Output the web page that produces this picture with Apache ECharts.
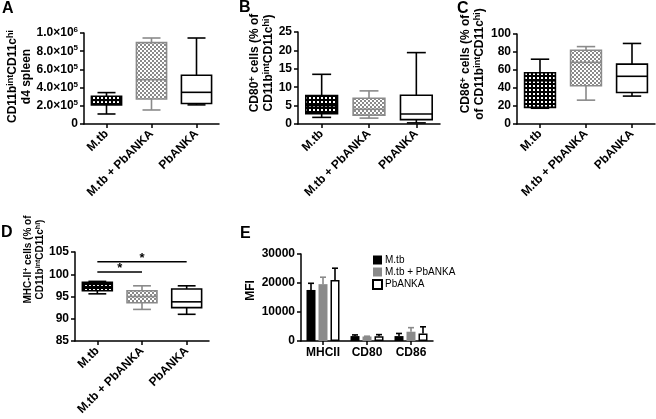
<!DOCTYPE html>
<html><head><meta charset="utf-8">
<script src="https://cdn.jsdelivr.net/npm/echarts@6/dist/echarts.min.js"></script>
<style>html,body{margin:0;padding:0;background:#fff}#c{width:656px;height:419px}</style>
</head><body><div id="c"></div>
<script>
// ---------- DATA ----------
const categories = ['M.tb', 'M.tb + PbANKA', 'PbANKA'];
// box statistics: [min, Q1, median, Q3, max]
const boxA_Mtb   = [110000, 210000, 260000, 305000, 345000];
const boxA_MtbPb = [154000, 275000, 487000, 894000, 945000];
const boxA_Pb    = [210000, 225000, 348000, 535000, 945000];
const boxB_Mtb   = [1.8, 2.8, 5.0, 7.7, 13.5];
const boxB_MtbPb = [1.6, 2.4, 4.0, 7.0, 9.0];
const boxB_Pb    = [0.3, 1.2, 2.7, 7.8, 19.4];
const boxC_Mtb   = [17.5, 18.5, 48, 57, 72];
const boxC_MtbPb = [26.5, 42.5, 68.5, 82, 86];
const boxC_Pb    = [31, 35, 53, 66.5, 89.5];
const boxD_Mtb   = [95.6, 96.3, 97.2, 98.2, 98.4];
const boxD_MtbPb = [92.1, 93.6, 95.0, 96.3, 97.4];
const boxD_Pb    = [91.0, 92.5, 93.8, 96.7, 97.4];
// significance brackets in D: [fromIndex, toIndex, yValue]
const sigD = [[0, 2, 102.8], [0, 1, 100.5]];
const sigD_labels = ['*', '*'];
// panel E
const markersE = ['MHCII', 'CD80', 'CD86'];
const meanE_Mtb   = [17600, 1700, 1700];
const upperE_Mtb  = [19900, 2100, 2600];
const meanE_MtbPb = [19600, 1550, 3200];
const upperE_MtbPb= [22000, 1650, 4600];
const meanE_Pb    = [21000, 1600, 2600];
const upperE_Pb   = [25100, 2200, 4900];
// tick labels
const yTickLabelsA = ['0', '2.0×10^5', '4.0×10^5', '6.0×10^5', '8.0×10^5', '1.0×10^6'];
const yTicksA = [0, 200000, 400000, 600000, 800000, 1000000];
const yTicksB = [0, 5, 10, 15, 20, 25];
const yTicksC = [0, 20, 40, 60, 80, 100];
const yTicksD = [85, 90, 95, 100, 105];
const yTicksE = [0, 10000, 20000, 30000];

// ---------- STYLE ----------
const FF = '"Liberation Sans", Arial, sans-serif';
function tile(bg, fg, size, cells) {
  const cv = document.createElement('canvas');
  cv.width = cv.height = size;
  const ctx = cv.getContext('2d');
  ctx.fillStyle = bg; ctx.fillRect(0, 0, size, size);
  ctx.fillStyle = fg;
  cells.forEach(c => ctx.fillRect(c[0], c[1], c[2], c[3]));
  return { image: cv, repeat: 'repeat' };
}
const patBlack = tile('#000', '#fff', 4, [[1, 1, 2, 2]]);
const patGrey  = tile('#fff', '#8a8a8a', 4, [[0, 0, 2, 2], [2, 2, 2, 2]]);
const fills   = [patBlack, patGrey, '#fff'];
const strokes = ['#000', '#8a8a8a', '#000'];

function boxRender(params, api) {
  const i = api.value(0);
  const band = api.size([1, 0])[0];
  const x = api.coord([i, 0])[0];
  const y = [1, 2, 3, 4, 5].map(k => api.coord([i, api.value(k)])[1]);
  const hw = band * 0.335, cw = band * 0.2;
  const ls = { stroke: strokes[i], lineWidth: 1.6 };
  return { type: 'group', children: [
    { type: 'line', shape: { x1: x, y1: y[0], x2: x, y2: y[1] }, style: ls },
    { type: 'line', shape: { x1: x, y1: y[3], x2: x, y2: y[4] }, style: ls },
    { type: 'line', shape: { x1: x - cw, y1: y[0], x2: x + cw, y2: y[0] }, style: ls },
    { type: 'line', shape: { x1: x - cw, y1: y[4], x2: x + cw, y2: y[4] }, style: ls },
    { type: 'rect', shape: { x: x - hw, y: y[3], width: 2 * hw, height: y[1] - y[3] },
      style: { fill: fills[i], stroke: strokes[i], lineWidth: 1.6 } },
    { type: 'line', shape: { x1: x - hw, y1: y[2], x2: x + hw, y2: y[2] }, style: ls }
  ]};
}
function boxSeries(idx, arrs) {
  return { type: 'custom', xAxisIndex: idx, yAxisIndex: idx, renderItem: boxRender,
    encode: { x: 0, y: [1, 2, 3, 4, 5] }, clip: false,
    data: arrs.map((a, i) => [i].concat(a)) };
}
function richSup(fs, ss) {
  return {
    b: { fontSize: fs, fontWeight: 'bold', fontFamily: FF, color: '#000', lineHeight: fs + 2 },
    s: { fontSize: ss, fontWeight: 'bold', fontFamily: FF, color: '#000', verticalAlign: 'top', lineHeight: fs + 2 }
  };
}
function supText(str) { // 'a^b' -> rich
  return str.replace(/\^(\w+)/, '{s|$1}').replace(/^([^{]+)/, '{n|$1}');
}
const axisLineS = { show: true, lineStyle: { color: '#000', width: 1.5 } };
const axisTickS = { show: true, length: 4, lineStyle: { color: '#000', width: 1.5 } };
function xCat(idx, data, rotate) {
  return { type: 'category', gridIndex: idx, data: data, boundaryGap: true,
    axisLine: axisLineS, axisTick: Object.assign({ alignWithLabel: true }, axisTickS),
    axisLabel: { interval: 0, rotate: rotate, margin: rotate ? 8 : 6, fontSize: 12, fontWeight: 'bold',
      fontFamily: FF, color: '#000' },
    splitLine: { show: false } };
}
function yVal(idx, ticks, name, gap, pad, fs, ss, labels) {
  const interval = ticks[1] - ticks[0];
  return { type: 'value', gridIndex: idx, min: ticks[0], max: ticks[ticks.length - 1], interval: interval,
    axisLine: axisLineS, axisTick: axisTickS, splitLine: { show: false },
    axisLabel: { margin: 6, fontSize: 12, fontWeight: 'bold', fontFamily: FF, color: '#000',
      formatter: labels ? function (v, i) { return supText(labels[i]); } : function (v) { return String(v); },
      rich: { n: { fontSize: 12, fontWeight: 'bold', fontFamily: FF, color: '#000', lineHeight: 14 },
              s: { fontSize: 8, fontWeight: 'bold', fontFamily: FF, color: '#000', verticalAlign: 'top', lineHeight: 14 } } },
    name: name, nameLocation: 'middle', nameRotate: 90, nameGap: gap,
    nameTextStyle: { fontSize: fs, fontWeight: 'bold', fontFamily: FF, color: '#000', align: 'center',
      padding: [0, 0, 0, pad], rich: richSup(fs, ss) } };
}
const gridBase = { containLabel: false, outerBoundsMode: 'none' };
const grids = [
  Object.assign({ left: 84, top: 33, width: 135, height: 91 }, gridBase),
  Object.assign({ left: 298, top: 32, width: 142, height: 92 }, gridBase),
  Object.assign({ left: 517, top: 34, width: 138, height: 90 }, gridBase),
  Object.assign({ left: 75, top: 252, width: 134, height: 89 }, gridBase),
  Object.assign({ left: 301, top: 254, width: 132, height: 87 }, gridBase)
];
const nameCD = '{b|CD11b}{s|int}{b|CD11c}{s|hi}';
const yAxes = [
  yVal(0, yTicksA, nameCD + '\n{b|d4 spleen}', 49, 4, 12, 9, yTickLabelsA),
  yVal(1, yTicksB, '{b|CD80}{s|+}{b| cells (% of}\n' + nameCD + '{b|)}', 22, 30, 12, 9),
  yVal(2, yTicksC, '{b|CD86}{s|+}{b| cells (% of}\n{b|of }' + nameCD + '{b|)}', 30, 30, 12, 9),
  yVal(3, yTicksD, '{b|MHC-II}{s|+}{b| cells (% of}\n' + nameCD + '{b|)}', 28, 74, 10, 7),
  yVal(4, yTicksE, '{b|MFI}', 43, 14, 12, 9)
];
const xAxes = [xCat(0, categories, 45), xCat(1, categories, 45), xCat(2, categories, 45),
  xCat(3, categories, 45), xCat(4, markersE, 0)];

const barW = 9, barGapPx = 3;
function errRender(k, color) {
  return function (params, api) {
    const i = api.value(0);
    const off = (k - 1) * (barW + barGapPx);
    const p1 = api.coord([i, api.value(1)]);
    const p2 = api.coord([i, api.value(2)]);
    const x = p1[0] + off;
    const st = { stroke: color, lineWidth: 1.6 };
    return { type: 'group', children: [
      { type: 'line', shape: { x1: x, y1: p1[1], x2: x, y2: p2[1] }, style: st },
      { type: 'line', shape: { x1: x - 3, y1: p2[1], x2: x + 3, y2: p2[1] }, style: st }
    ]};
  };
}
function errSeries(k, color, means, uppers) {
  return { type: 'custom', xAxisIndex: 4, yAxisIndex: 4, renderItem: errRender(k, color), z: 3,
    encode: { x: 0, y: [1, 2] }, data: means.map((m, i) => [i, m, uppers[i]]) };
}
function barSeries(name, vals, style) {
  return { type: 'bar', name: name, xAxisIndex: 4, yAxisIndex: 4, data: vals, barWidth: barW,
    barGap: (barGapPx / barW * 100) + '%', itemStyle: style };
}

const option = {
  animation: false,
  backgroundColor: '#fff',
  grid: grids, xAxis: xAxes, yAxis: yAxes,
  legend: { left: 372, top: 255, orient: 'vertical', itemWidth: 9, itemHeight: 9, itemGap: 2, padding: 0,
    icon: 'rect', data: categories,
    textStyle: { fontSize: 10, fontFamily: FF, color: '#000', padding: [0, 0, 0, -2] } },
  graphic: [
    { type: 'text', left: 2, top: 1, style: { text: 'A', font: 'bold 16px ' + FF, fill: '#000' } },
    { type: 'text', left: 239, top: 0, style: { text: 'B', font: 'bold 16px ' + FF, fill: '#000' } },
    { type: 'text', left: 457, top: 1, style: { text: 'C', font: 'bold 16px ' + FF, fill: '#000' } },
    { type: 'text', left: 1, top: 225, style: { text: 'D', font: 'bold 16px ' + FF, fill: '#000' } },
    { type: 'text', left: 240, top: 226, style: { text: 'E', font: 'bold 16px ' + FF, fill: '#000' } }
  ],
  series: [
    boxSeries(0, [boxA_Mtb, boxA_MtbPb, boxA_Pb]),
    boxSeries(1, [boxB_Mtb, boxB_MtbPb, boxB_Pb]),
    boxSeries(2, [boxC_Mtb, boxC_MtbPb, boxC_Pb]),
    boxSeries(3, [boxD_Mtb, boxD_MtbPb, boxD_Pb]),
    { type: 'custom', xAxisIndex: 3, yAxisIndex: 3, clip: false, encode: { x: [0, 1], y: 2 },
      data: sigD,
      renderItem: function (params, api) {
        const a = api.coord([api.value(0), api.value(2)]);
        const b = api.coord([api.value(1), api.value(2)]);
        return { type: 'group', children: [
          { type: 'line', shape: { x1: a[0], y1: a[1], x2: b[0], y2: b[1] }, style: { stroke: '#000', lineWidth: 1.6 } },
          { type: 'text', x: (a[0] + b[0]) / 2, y: a[1] + 3,
            style: { text: sigD_labels[params.dataIndex], font: 'bold 13px ' + FF, fill: '#000',
              textAlign: 'center', textVerticalAlign: 'bottom' } }
        ]};
      } },
    barSeries(categories[0], meanE_Mtb, { color: '#000' }),
    barSeries(categories[1], meanE_MtbPb, { color: '#8a8a8a' }),
    barSeries(categories[2], meanE_Pb, { color: '#fff', borderColor: '#000', borderWidth: 1.5 }),
    errSeries(0, '#000', meanE_Mtb, upperE_Mtb),
    errSeries(1, '#8a8a8a', meanE_MtbPb, upperE_MtbPb),
    errSeries(2, '#000', meanE_Pb, upperE_Pb)
  ]
};
const chart = echarts.init(document.getElementById('c'), null, { renderer: 'canvas' });
chart.setOption(option);
</script></body></html>
